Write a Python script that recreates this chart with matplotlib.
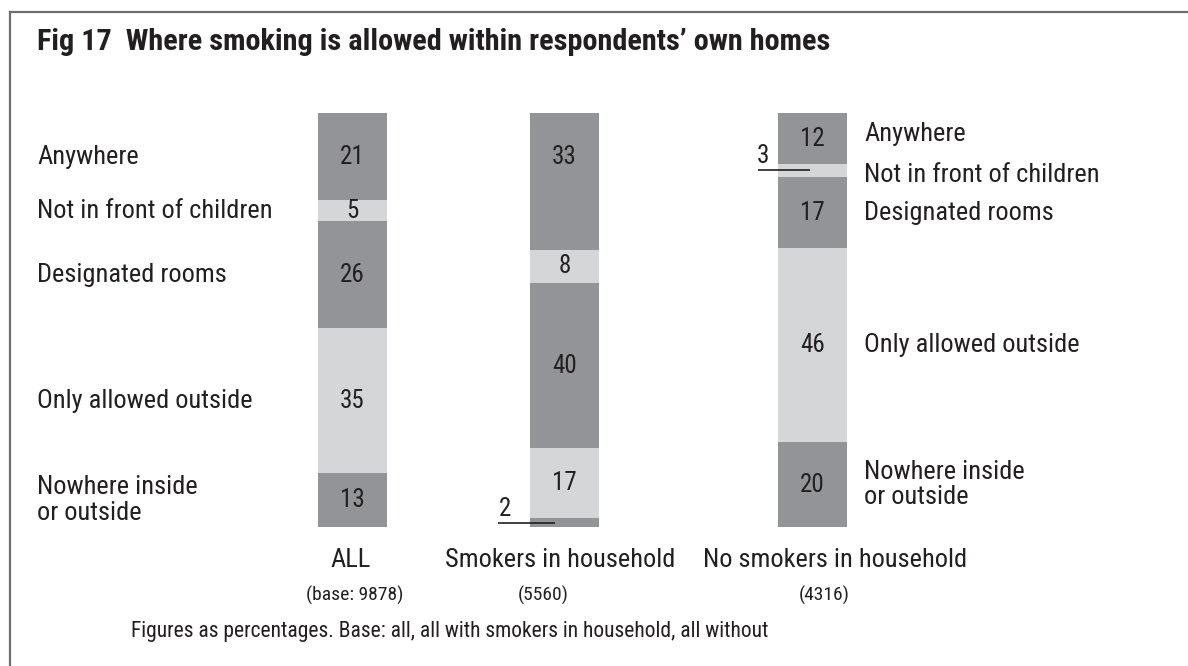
import matplotlib
matplotlib.use("Agg")
import matplotlib.pyplot as plt
from matplotlib import font_manager
import numpy as np

# data (percentages, stacked bottom -> top)
groups = ["ALL", "Smokers in household", "No smokers in household"]
bases = ["(base: 9878)", "(5560)", "(4316)"]
categories = ["Nowhere inside\nor outside", "Only allowed outside", "Designated rooms",
              "Not in front of children", "Anywhere"]
values = {
    "ALL": [13, 35, 26, 5, 21],
    "Smokers in household": [2, 17, 40, 8, 33],
    "No smokers in household": [20, 46, 17, 3, 12],
}
note = "Figures as percentages. Base: all, all with smokers in household, all without"
title = "Fig 17  Where smoking is allowed within respondents\u2019 own homes"

# pick a condensed font if one is there
installed = {f.name for f in font_manager.fontManager.ttflist}
font = "DejaVu Sans"
for cand in ["Liberation Sans Narrow", "Roboto Condensed", "Open Sans Condensed", "Liberation Sans"]:
    if cand in installed:
        font = cand
        break
plt.rcParams["font.family"] = [font, "DejaVu Sans"]

TXT = "#231f20"
DARK = "#939498"
LIGHT = "#d5d6d8"
seg_colors = [DARK, LIGHT, DARK, LIGHT, DARK]

fig = plt.figure(figsize=(11.88, 6.66), dpi=100)
ax = fig.add_axes([0, 0, 1, 1])
# x in pixels, y in percent (0% at bar foot, 100% at bar top)
px = 4.133
ax.set_xlim(0, 1188)
ax.set_ylim((526.7 - 666) / px, 526.7 / px)
ax.axis("off")

xpos = [352.5, 564.5, 812.5]
bar_w = 69

centers = {}
for g, x in zip(groups, xpos):
    v = np.array(values[g], dtype=float)
    v = v / v.sum() * 100
    bottoms = np.concatenate([[0], np.cumsum(v)[:-1]])
    ax.bar(x, v, bottom=bottoms, width=bar_w, color=seg_colors, linewidth=0)
    centers[g] = bottoms + v / 2
    for i, (val, c) in enumerate(zip(values[g], centers[g])):
        if val <= 3:
            continue  # labelled outside the bar
        dy = 6 if (g == "Smokers in household" and i == 4) else 0
        ax.text(x, c + dy, str(val), ha="center", va="center", fontsize=18, color=TXT)

# small segments labelled outside with a leader line
c2 = centers["Smokers in household"][0]
ax.plot([498, 555], [c2, c2], color=TXT, lw=1.2, solid_capstyle="butt")
ax.text(505, c2 + 0.5, str(values["Smokers in household"][0]), ha="center", va="bottom",
        fontsize=18, color=TXT)
c3 = centers["No smokers in household"][3]
ax.plot([758, 810], [c3, c3], color=TXT, lw=1.2, solid_capstyle="butt")
ax.text(763, c3 + 0.5, str(values["No smokers in household"][3]), ha="center", va="bottom",
        fontsize=18, color=TXT)

# category labels: left of ALL, right of No smokers
right_dy = [0, 0, 0, -1.2, 1.2]
for i, cat in enumerate(categories):
    ax.text(37, centers["ALL"][i], cat, ha="left", va="center", fontsize=19,
            color=TXT, linespacing=1.1)
    ax.text(864, centers["No smokers in household"][i] + right_dy[i], cat, ha="left",
            va="center", fontsize=19, color=TXT, linespacing=1.1)

# group names and bases below bars
name_x = [351, 560, 835]
base_x = [355, 543, 824]
for g, b, nx, bx in zip(groups, bases, name_x, base_x):
    fig.text(nx / 1188, 1 - 560 / 666, g, ha="center", va="center", fontsize=19, color=TXT)
    fig.text(bx / 1188, 1 - 595 / 666, b, ha="center", va="center", fontsize=14, color=TXT)

fig.text(131 / 1188, 1 - 632 / 666, note, ha="left", va="center", fontsize=15.5, color=TXT)
fig.text(37 / 1188, 1 - 42 / 666, title, ha="left", va="center", fontsize=21.8,
         fontweight="bold", color=TXT)

# frame: top and left edges only
fig.add_artist(plt.Line2D([10 / 1188, 1], [1 - 12 / 666, 1 - 12 / 666],
                          transform=fig.transFigure, color="#6d6e71", lw=1.6))
fig.add_artist(plt.Line2D([10 / 1188, 10 / 1188], [0, 1 - 12 / 666],
                          transform=fig.transFigure, color="#6d6e71", lw=1.6))

fig.savefig("out.png", dpi=100, facecolor="white")
